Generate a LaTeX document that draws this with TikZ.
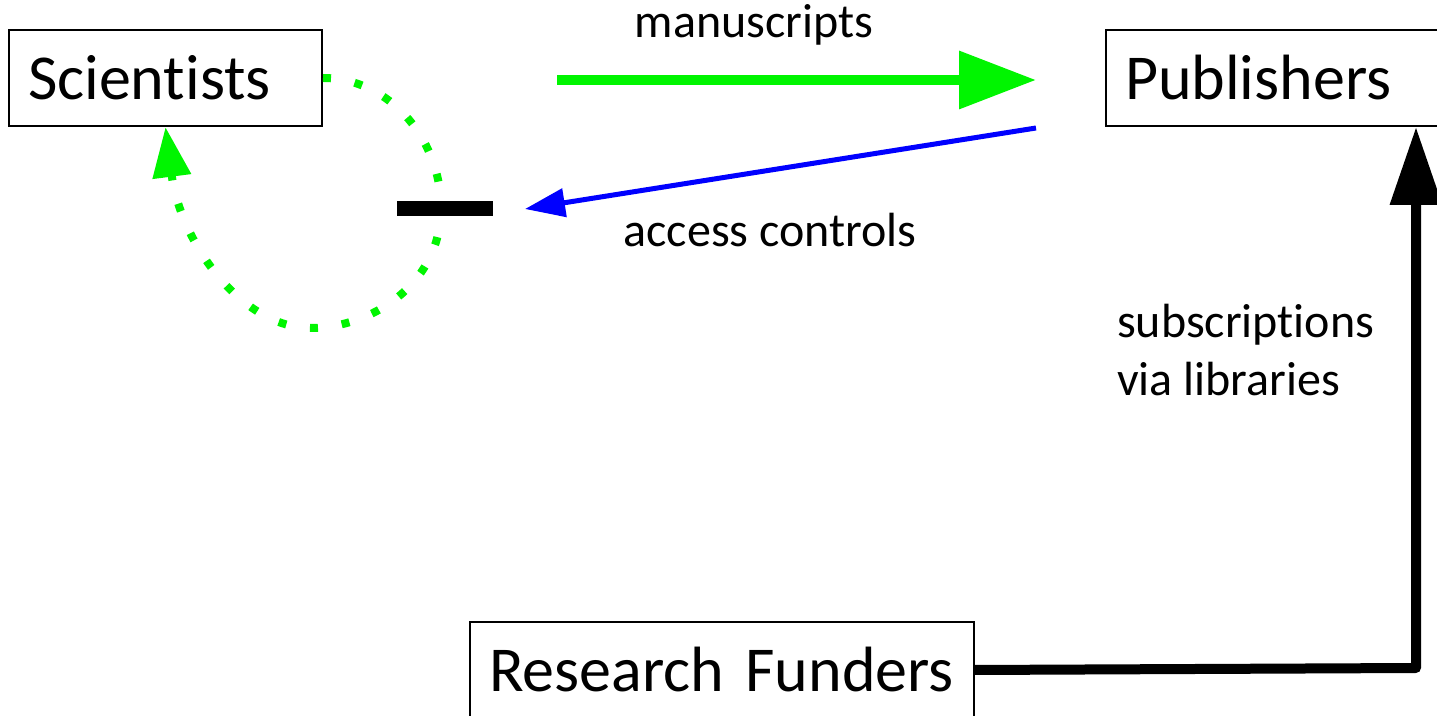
\documentclass[tikz,border=0pt]{standalone}
\usepackage{fontspec}
\setmainfont{Carlito}[Ligatures=NoCommon,RawFeature={-liga;-clig;-calt;-dlig}]
\usetikzlibrary{arrows.meta}
\definecolor{brightgreen}{RGB}{0,245,0}
\tikzset{box/.style={draw,line width=1pt,minimum height=48pt,inner xsep=9.5pt,align=left,font=\fontsize{32}{38}\selectfont},
lbl/.style={font=\fontsize{24}{29}\selectfont,anchor=base}}
\begin{document}
\begin{tikzpicture}[x=0.5pt,y=-0.5pt]
\clip (0,0) rectangle (1437,716);
\node[box,text width=137.5pt] (sci) at (165.5,78) {Scientists};
\node[box,text width=181pt] (pub) at (1306,78) {Publishers};
\node[box,text width=233pt] (fund) at (722,670) {Research Funders};
\node[lbl] (ms) at (754,38) {manuscripts};
\node[lbl] (ac) at (770,247) {access controls};
\node[lbl,anchor=north west,align=left] (sub) at (1110,297) {subscriptions\\via libraries};
\coordinate (m1) at (557,80);\coordinate (m2) at (1036,80);
\coordinate (a1) at (1036,128);\coordinate (a2) at (525,209);
\coordinate (k) at (1416,668);\coordinate (r) at (441,208);\coordinate (b) at (311,328);
\draw[brightgreen,line width=5pt,-{Triangle[length=38.5pt,width=28pt]}] (m1)--(m2);
\draw[blue,line width=2.5pt,-{Triangle[length=20pt,width=14pt]}] (a1)--(a2);
\draw[line width=5pt,line join=round,-{Triangle[length=39pt,width=25pt]}] (fund.east)--(k)--(k|-pub.south);
\draw[brightgreen,line width=4pt,dash pattern=on 4pt off 12pt,-{Triangle[length=25pt,width=18.5pt]}]
  (sci.east) .. controls (390,78) and (441,140) .. (r) .. controls (441,285) and (370,328) .. (b)
  .. controls (240,328) and (180,240) .. (sci.south);
\fill (397,201) rectangle (493,216);
\end{tikzpicture}
\end{document}
